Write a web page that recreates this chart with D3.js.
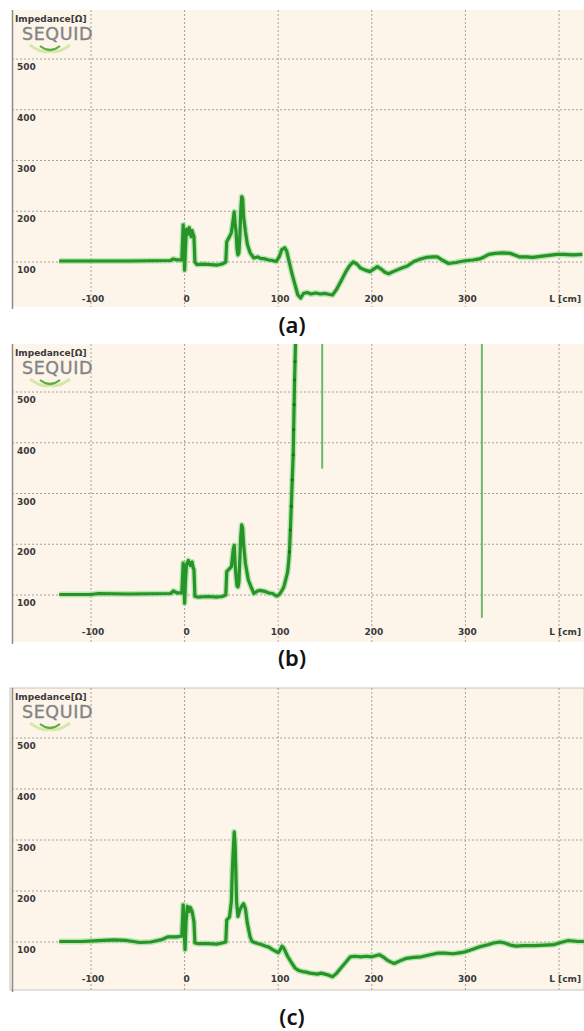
<!DOCTYPE html>
<html><head><meta charset="utf-8">
<script src="https://cdn.jsdelivr.net/npm/d3@7"></script>
<style>body{margin:0;background:#fff}svg{display:block}</style>
</head><body>
<script>
// ---- data ----
const xTicks = [-100, 0, 100, 200, 300];
const yTicks = [100, 200, 300, 400, 500];
const panelNames = ["(a)", "(b)", "(c)"];

const distanceA = [-134,-60,-15,-12,-8,-3,-1.5,-0.5,0,1,2,4,5,7,8,9,10,11,13,20,28,35,40,44,45,48,50,52,53,54,55,56,57,58,59,60,61,62,63,65,67,70,74,78,81,86,90,94,98,101,104,107,109,112,115,118,121,124,127,131,135,140,145,150,155,158,162,167,172,176,180,184,188,193,198,202,206,210,214,218,224,232,238,245,252,258,265,270,276,282,290,295,302,308,315,320,325,332,340,348,354,358,365,372,380,389,398,405,415,425];
const impedanceA = [102,102,103,106,104,104,173,120,84,130,165,155,168,150,162,155,150,100,95,96,95,94,96,100,140,150,158,185,199,175,160,125,114,118,150,200,229,225,190,160,135,118,108,110,107,106,104,103,101,110,125,128,122,98,75,55,35,29,38,40,37,39,37,38,36,35,45,62,80,92,100,96,88,84,81,86,91,86,80,77,82,88,92,101,106,109,110,110,103,97,99,101,103,104,106,110,115,117,118,117,113,110,110,109,111,113,115,115,114,115];

const distanceB = [-134,-100,-92,-60,-15,-12,-8,-3,-1.5,-0.5,0,1,2,4,6,8,9,10,11,14,25,35,40,44,45,48,50,52,53,54,55,56,57,58,59,60,61,62,63,65,68,71,74,78,80,86,90,94,98,100,102,104,106,108,110,111,112,113,114,115,116,116.5,117,117.5,118,118.5];
const impedanceB = [101,101,103,102,103,108,104,104,163,120,84,130,160,168,158,165,155,150,97,96,97,96,97,100,146,152,156,190,198,160,136,118,116,125,170,215,238,232,200,162,130,116,103,108,109,107,104,103,98,99,103,109,116,130,145,162,185,228,275,327,376,426,475,524,560,600];
const spikeDistanceB = [147, 317.6];
const spikeLowB = [349, 55];

const distanceC = [-134,-110,-87,-75,-62,-48,-36,-24,-18,-8,-3,-1.5,-0.5,0.5,1.5,3,5,6,8,9,10,11,14,25,35,40,44,45,48,50,51,52,53,54,54.7,55.5,57,59,61,63,65,67,70,72,78,82,86,90,94,97,100,102,104,106,110,114,118,122,126,130,134,138,142,146,150,154,158,162,167,172,177,182,188,194,200,204,208,212,216,220,224,230,237,245,253,260,270,278,287,295,300,308,316,325,330,337,342,348,354,362,374,385,395,402,410,415,420,428];
const impedanceC = [101,101,103,104,103,99,100,105,110,110,112,173,120,85,140,170,160,168,160,150,140,98,97,97,96,98,100,143,149,180,241,280,316,290,241,180,150,163,170,175,165,137,110,101,97,95,92,90,85,82,79,84,92,88,72,60,49,44,42,41,39,38,37,39,37,35,32,38,49,60,71,72,71,72,71,73,75,71,65,61,58,63,68,70,71,74,78,78,77,79,81,86,91,95,98,100,98,94,92,93,93,94,95,99,103,102,101,101];

// ---- layout ----
const W = 584, H = 1031;
const panels = [
  {top:10,  y500:59,  y100:262, bottom:307, label:333, bx:12, border:false,
   L:distanceA, Z:impedanceA},
  {top:344, y500:392, y100:595, bottom:642, label:666, bx:12, border:false,
   L:distanceB, Z:impedanceB, spikes:true},
  {top:688, y500:738, y100:942, bottom:990, label:1025, bx:10, border:true,
   L:distanceC, Z:impedanceC}
];

const svg = d3.select("body").append("svg").attr("width", W).attr("height", H);
const x = d3.scaleLinear().domain([-100, 400]).range([91, 559]);
const font = "'DejaVu Sans', Verdana, sans-serif";

panels.forEach((p, i) => {
  const y = d3.scaleLinear().domain([100, 500]).range([p.y100, p.y500]);
  const g = svg.append("g");
  const clipId = "clip" + i;
  svg.append("clipPath").attr("id", clipId).append("rect")
    .attr("x", 12).attr("y", p.top).attr("width", W - 12).attr("height", p.bottom - p.top);

  g.append("rect").attr("x", p.bx).attr("y", p.top).attr("width", W - p.bx)
    .attr("height", p.bottom - p.top).attr("fill", "#fdf5ea")
    .attr("stroke", p.border ? "#c9c4bd" : "none").attr("stroke-width", 1);

  // grid
  const grid = g.append("g").attr("stroke", "#a8a198").attr("stroke-width", 1)
    .attr("stroke-dasharray", "2,2");
  grid.selectAll("line.h").data(yTicks).join("line")
    .attr("x1", 12).attr("x2", W).attr("y1", d => y(d)).attr("y2", d => y(d));
  grid.selectAll("line.v").data(xTicks.concat([400])).join("line")
    .attr("x1", d => x(d)).attr("x2", d => x(d)).attr("y1", p.top).attr("y2", p.bottom)
    .attr("stroke", d => (i === 1 && d === 100) ? "#d9a0a0" : "#a8a198");

  // left axis line
  g.append("line").attr("x1", 12.5).attr("x2", 12.5).attr("y1", p.top).attr("y2", p.bottom + 2)
    .attr("stroke", "#8e8a85").attr("stroke-width", 1.5);

  // y tick labels
  g.selectAll("text.yt").data(yTicks).join("text")
    .attr("x", 17).attr("y", d => y(d) + 11)
    .attr("font-family", font).attr("font-weight", "bold").attr("font-size", 9)
    .attr("fill", "#3a3a3a").text(d => d);
  // x tick labels
  g.selectAll("text.xt").data(xTicks).join("text")
    .attr("x", d => x(d) + 2).attr("y", p.y100 + 40).attr("text-anchor", "middle")
    .attr("font-family", font).attr("font-weight", "bold").attr("font-size", 9)
    .attr("fill", "#3a3a3a").text(d => d);
  g.append("text").attr("x", 581).attr("y", p.y100 + 40).attr("text-anchor", "end")
    .attr("font-family", font).attr("font-weight", "bold").attr("font-size", 9)
    .attr("fill", "#3a3a3a").text("L [cm]");

  // title + logo
  g.append("text").attr("x", 15).attr("y", p.top + 12)
    .attr("font-family", font).attr("font-weight", "bold").attr("font-size", 9)
    .attr("fill", "#3a3a3a").text("Impedance[Ω]");
  g.append("text").attr("x", 22).attr("y", p.top + 30)
    .attr("font-family", font).attr("font-size", 17.5).attr("letter-spacing", 0.6)
    .attr("fill", "#858585").attr("stroke", "#858585").attr("stroke-width", 0.4)
    .text("SEQUID");
  const lg = g.append("g").attr("fill", "none");
  lg.append("path").attr("d", `M30 ${p.top+35} Q42 ${p.top+44} 50 ${p.top+41} Q58 ${p.top+44} 70 ${p.top+35}`)
    .attr("stroke", "#d7e8a8").attr("stroke-width", 3);
  lg.append("path").attr("d", `M40 ${p.top+36} Q50 ${p.top+44} 60 ${p.top+36}`)
    .attr("stroke", "#5cae3c").attr("stroke-width", 2.2);

  // curve
  const pts = p.L.map((l, k) => [l, p.Z[k]]);
  const line = d3.line().x(d => x(d[0])).y(d => y(d[1]));
  const cg = g.append("g").attr("clip-path", `url(#${clipId})`);
  if (p.spikes) {
    cg.selectAll("line.sp").data(spikeDistanceB).join("line")
      .attr("x1", d => x(d)).attr("x2", d => x(d))
      .attr("y1", (d, k) => y(spikeLowB[k])).attr("y2", p.top)
      .attr("stroke", "#6cb86c").attr("stroke-width", 2);
  }
  cg.append("path").attr("d", line(pts)).attr("fill", "none")
    .attr("stroke", "#8fdc8f").attr("stroke-width", 6).attr("stroke-opacity", 0.6)
    .attr("stroke-linejoin", "round");
  cg.append("path").attr("d", line(pts)).attr("fill", "none")
    .attr("stroke", "#279427").attr("stroke-width", 3.2)
    .attr("stroke-linejoin", "round");
  if (p.spikes) {
    cg.selectAll("circle").data(pts.filter(d => d[0] >= 112)).join("circle")
      .attr("cx", d => x(d[0])).attr("cy", d => y(d[1])).attr("r", 1.6)
      .attr("fill", "#1f6f1f");
  }

  // panel caption
  svg.append("text").attr("x", 292).attr("y", p.label).attr("text-anchor", "middle")
    .attr("font-family", "'Noto Sans', sans-serif").attr("font-weight", 600)
    .attr("font-size", 22).attr("fill", "#111").text(panelNames[i]);
});
</script>
</body></html>
